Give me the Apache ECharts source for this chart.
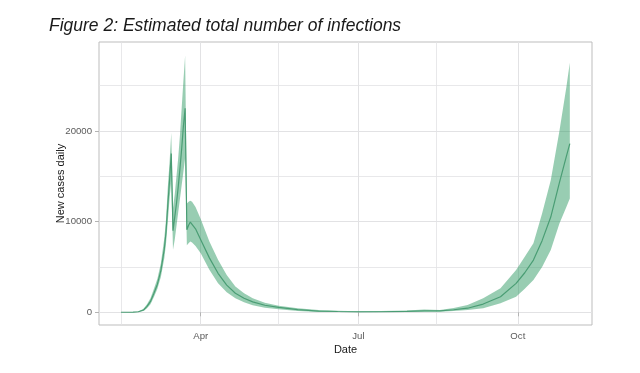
<!DOCTYPE html>
<html>
<head>
<meta charset="utf-8">
<script src="https://cdn.jsdelivr.net/npm/echarts@6/dist/echarts.min.js"></script>
<style>
html,body{margin:0;padding:0;background:#fff;}
#chart{width:640px;height:373px;}
</style>
</head>
<body>
<div id="chart"></div>
<script>
// ---- data ----
const dates = ['2020-02-15','2020-02-22','2020-02-25','2020-02-28','2020-03-01','2020-03-03','2020-03-05','2020-03-07','2020-03-09','2020-03-11','2020-03-12','2020-03-13','2020-03-14','2020-03-15','2020-03-16','2020-03-17','2020-03-18','2020-03-19','2020-03-20','2020-03-21','2020-03-22','2020-03-23','2020-03-24','2020-03-25','2020-03-26','2020-03-27','2020-03-29','2020-04-01','2020-04-06','2020-04-11','2020-04-16','2020-04-21','2020-04-26','2020-05-01','2020-05-08','2020-05-16','2020-05-27','2020-06-08','2020-06-19','2020-07-01','2020-07-14','2020-07-29','2020-08-08','2020-08-17','2020-08-25','2020-09-02','2020-09-11','2020-09-21','2020-09-30','2020-10-05','2020-10-10','2020-10-15','2020-10-20','2020-10-25','2020-10-29','2020-10-31'];
const lower  = [0,5,30,150,450,900,1700,2600,3900,6000,7600,10000,12500,14500,6900,8000,9500,11000,12500,14000,15500,17000,7400,7600,7800,7700,7300,6500,4700,3200,2200,1550,1100,780,500,330,150,30,20,15,20,40,70,70,150,250,440,990,1720,2600,3560,5000,6860,9800,11600,12550];
const median = [5,20,60,250,650,1200,2100,3100,4600,7000,8900,11800,14500,17500,9000,10500,12000,13800,15800,18000,20500,22500,9100,9600,9950,9900,9200,8000,6000,4300,3000,2100,1550,1150,780,550,300,140,90,60,60,100,160,150,280,450,910,1720,3190,4360,5760,7900,10500,14300,17200,18600];
const upper  = [10,40,100,380,900,1550,2600,3700,5400,8200,10300,13800,16500,19800,11500,13000,15000,17000,19500,22500,25500,28300,12000,12200,12300,12200,11600,10300,7800,5800,4100,2850,2100,1550,1050,730,450,250,170,120,130,200,300,260,480,800,1540,2640,4660,6120,7600,10900,14570,20000,24800,27500];

const xTickDates  = ['2020-04-01','2020-07-01','2020-10-01'];
const xTickLabels = ['Apr','Jul','Oct'];
const xMinorDates = ['2020-02-15','2020-05-16','2020-08-15'];
const yTicks      = [0, 10000, 20000];
const yMinorTicks = [5000, 15000, 25000];

// ---- helpers ----
const base = Date.UTC(2020, 0, 1);
function dayOf(s) {
  const p = s.split('-').map(Number);
  return (Date.UTC(p[0], p[1] - 1, p[2]) - base) / 86400000;
}
const xs = dates.map(dayOf);
const xTickVals = xTickDates.map(dayOf);
const xMinorVals = xMinorDates.map(dayOf);
const labelByDay = {};
xTickVals.forEach((v, i) => { labelByDay[v] = xTickLabels[i]; });

const FONT = '"Liberation Sans", Arial, sans-serif';
const GRID = '#e2e2e4';

const chart = echarts.init(document.getElementById('chart'), null, {renderer: 'canvas'});
chart.setOption({
  animation: false,
  backgroundColor: '#ffffff',
  title: {
    text: 'Figure 2: Estimated total number of infections',
    left: 49, top: 17, padding: 0,
    textStyle: {fontFamily: FONT, fontSize: 17.5, fontStyle: 'italic', fontWeight: 'normal', color: '#1a1a1a'}
  },
  grid: {left: 99, top: 42, right: 48, bottom: 48, show: true, borderColor: '#bdbdbd', borderWidth: 1, backgroundColor: 'transparent'},
  xAxis: [{
    type: 'value', min: 32.3, max: 316.8,
    name: 'Date', nameLocation: 'middle', nameGap: 19, nameMoveOverlap: false,
    nameTextStyle: {fontFamily: FONT, fontSize: 11, color: '#1a1a1a'},
    axisLine: {show: false},
    axisTick: {show: true, length: 4, customValues: xTickVals, lineStyle: {color: '#b3b3b3'}},
    axisLabel: {customValues: xTickVals, margin: 6, fontFamily: FONT, fontSize: 9.6, color: '#5a5a5a',
      formatter: v => labelByDay[v] || ''},
    splitLine: {show: true, lineStyle: {color: GRID, width: 1}}
  }, {
    type: 'value', min: 32.3, max: 316.8, position: 'bottom',
    axisLine: {show: false}, axisLabel: {show: false},
    axisTick: {show: false, customValues: xMinorVals},
    splitLine: {show: true, lineStyle: {color: GRID, width: 0.8}}
  }],
  yAxis: [{
    type: 'value', min: -1400, max: 29800,
    name: 'New cases daily', nameLocation: 'middle', nameGap: 33, nameMoveOverlap: false,
    nameTextStyle: {fontFamily: FONT, fontSize: 11, color: '#1a1a1a'},
    axisLine: {show: false},
    axisTick: {show: true, length: 4, customValues: yTicks, lineStyle: {color: '#b3b3b3'}},
    axisLabel: {customValues: yTicks, margin: 7, fontFamily: FONT, fontSize: 9.6, color: '#5a5a5a',
      formatter: v => String(v)},
    splitLine: {show: true, lineStyle: {color: GRID, width: 1}}
  }, {
    type: 'value', min: -1400, max: 29800,
    axisLine: {show: false}, axisLabel: {show: false},
    axisTick: {show: false, customValues: yMinorTicks},
    splitLine: {show: true, lineStyle: {color: GRID, width: 0.8}}
  }],
  series: [{
    type: 'custom',
    name: 'band',
    silent: true,
    data: xs.map((x, i) => [x, lower[i], upper[i]]),
    encode: {x: 0, y: [1, 2]},
    renderItem: function (params, api) {
      if (params.dataIndex !== 0) return null;
      const pts = [];
      for (let i = 0; i < xs.length; i++) pts.push(api.coord([xs[i], upper[i]]));
      for (let i = xs.length - 1; i >= 0; i--) pts.push(api.coord([xs[i], lower[i]]));
      return {type: 'polygon', shape: {points: pts}, style: {fill: 'rgba(40,150,95,0.48)', stroke: null}};
    },
    z: 2
  }, {
    type: 'line',
    name: 'median',
    data: xs.map((x, i) => [x, median[i]]),
    showSymbol: false,
    symbol: 'none',
    lineStyle: {color: '#4a9d74', width: 1.2},
    z: 3
  }]
});
</script>
</body>
</html>
